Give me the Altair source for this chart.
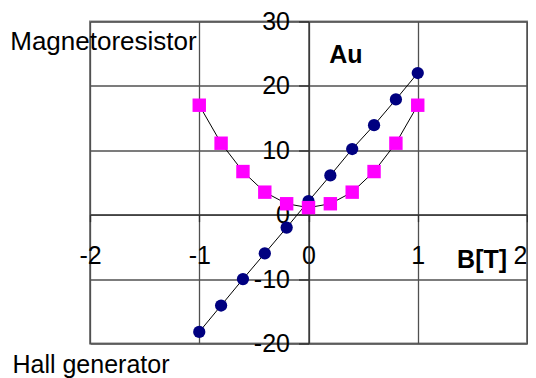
import altair as alt
import pandas as pd

# ---- data ----
b_field = [-1.0, -0.8, -0.6, -0.4, -0.2, 0.0, 0.2, 0.4, 0.6, 0.8, 1.0]
hall_values = [-18.2, -14.1, -10, -6, -2, 2.1, 6.1, 10.2, 13.9, 17.9, 22]
magneto_values = [17, 11.1, 6.7, 3.5, 1.7, 1.1, 1.7, 3.5, 6.7, 11.1, 17]

x_ticks = [-2, -1, 0, 1, 2]
y_ticks = [-20, -10, 0, 10, 20, 30]

normal_labels = ["Magnetoresistor", "Hall generator"]
normal_x = [-2.73, -2.71]
normal_y = [25.6, -24.6]
normal_size = [26, 25]
bold_labels = ["Au", "B[T]"]
bold_x = [0.19, 1.36]
bold_y = [23.5, -8.2]

FONT = "Liberation Sans"
FS = 25
W, H = 437, 322

hall_df = pd.DataFrame({"B": b_field, "V": hall_values})
mag_df = pd.DataFrame({"B": b_field, "V": magneto_values})
norm_df = pd.DataFrame({"t": normal_labels, "x": normal_x, "y": normal_y, "s": normal_size})
bold_df = pd.DataFrame({"t": bold_labels, "x": bold_x, "y": bold_y})

xs = alt.Scale(domain=[-2, 2], nice=False, zero=False)
ys = alt.Scale(domain=[-20, 30], nice=False, zero=False)

LABEL_EXPR = "datum.value < 0 ? '-' + abs(datum.value) : '' + datum.value"

x_axis = alt.Axis(values=x_ticks, offset=-(20 / 50) * H, grid=True,
                  gridColor="#505050", gridWidth=1.3, domainColor="#303030",
                  domainWidth=1.3, tickColor="#303030", tickWidth=1.3, tickSize=7,
                  labelPadding=22, labelFont=FONT, labelFontSize=FS, labelColor="black",
                  labelAlign={"condition": {"test": "datum.value >= 2", "value": "right"},
                              "value": "center"},
                  labelExpr=LABEL_EXPR,
                  labelFlush=False, labelOverlap=False, title=None)
y_axis = alt.Axis(values=y_ticks, offset=-W / 2, grid=True,
                  gridColor="#505050", gridWidth=1.3, domainColor="#303030",
                  domainWidth=1.3, tickColor="#303030", tickWidth=1.3, tickSize=10,
                  labelPadding=9, labelFont=FONT, labelFontSize=FS, labelColor="black",
                  labelExpr=LABEL_EXPR,
                  labelFlush=False, labelOverlap=False, title=None)

X = alt.X("B:Q", scale=xs, axis=x_axis)
Y = alt.Y("V:Q", scale=ys, axis=y_axis)

hall_line = alt.Chart(hall_df).mark_line(color="black", strokeWidth=1).encode(x=X, y=Y)
hall_pts = alt.Chart(hall_df).mark_point(shape="circle", filled=True, size=150,
                                          color="#000080", opacity=1).encode(x=X, y=Y)
mag_line = alt.Chart(mag_df).mark_line(color="black", strokeWidth=1).encode(x=X, y=Y)
mag_pts = alt.Chart(mag_df).mark_point(shape="square", filled=True, size=180,
                                        color="#FF00FF", opacity=1).encode(x=X, y=Y)

XT = alt.X("x:Q", scale=xs, axis=x_axis)
YT = alt.Y("y:Q", scale=ys, axis=y_axis)
norm_text = alt.Chart(norm_df).mark_text(font=FONT, align="left",
                                          baseline="alphabetic", color="black").encode(
    x=XT, y=YT, text="t:N",
    size=alt.Size("s:Q", scale=None, legend=None),
)
bold_text = alt.Chart(bold_df).mark_text(font=FONT, fontSize=FS, fontWeight="bold",
                                          align="left", baseline="alphabetic",
                                          color="black").encode(
    x=XT, y=YT, text="t:N",
)

chart = alt.layer(hall_line, hall_pts, mag_line, mag_pts, norm_text, bold_text).properties(
    width=W, height=H,
    background="white",
    autosize=alt.AutoSizeParams(type="none"),
    padding={"left": 82, "top": 13.5, "right": 1, "bottom": 40},
).configure_view(stroke="#808080", strokeWidth=2)

chart.save("out.html", embed_options={"renderer": "svg", "actions": False})
